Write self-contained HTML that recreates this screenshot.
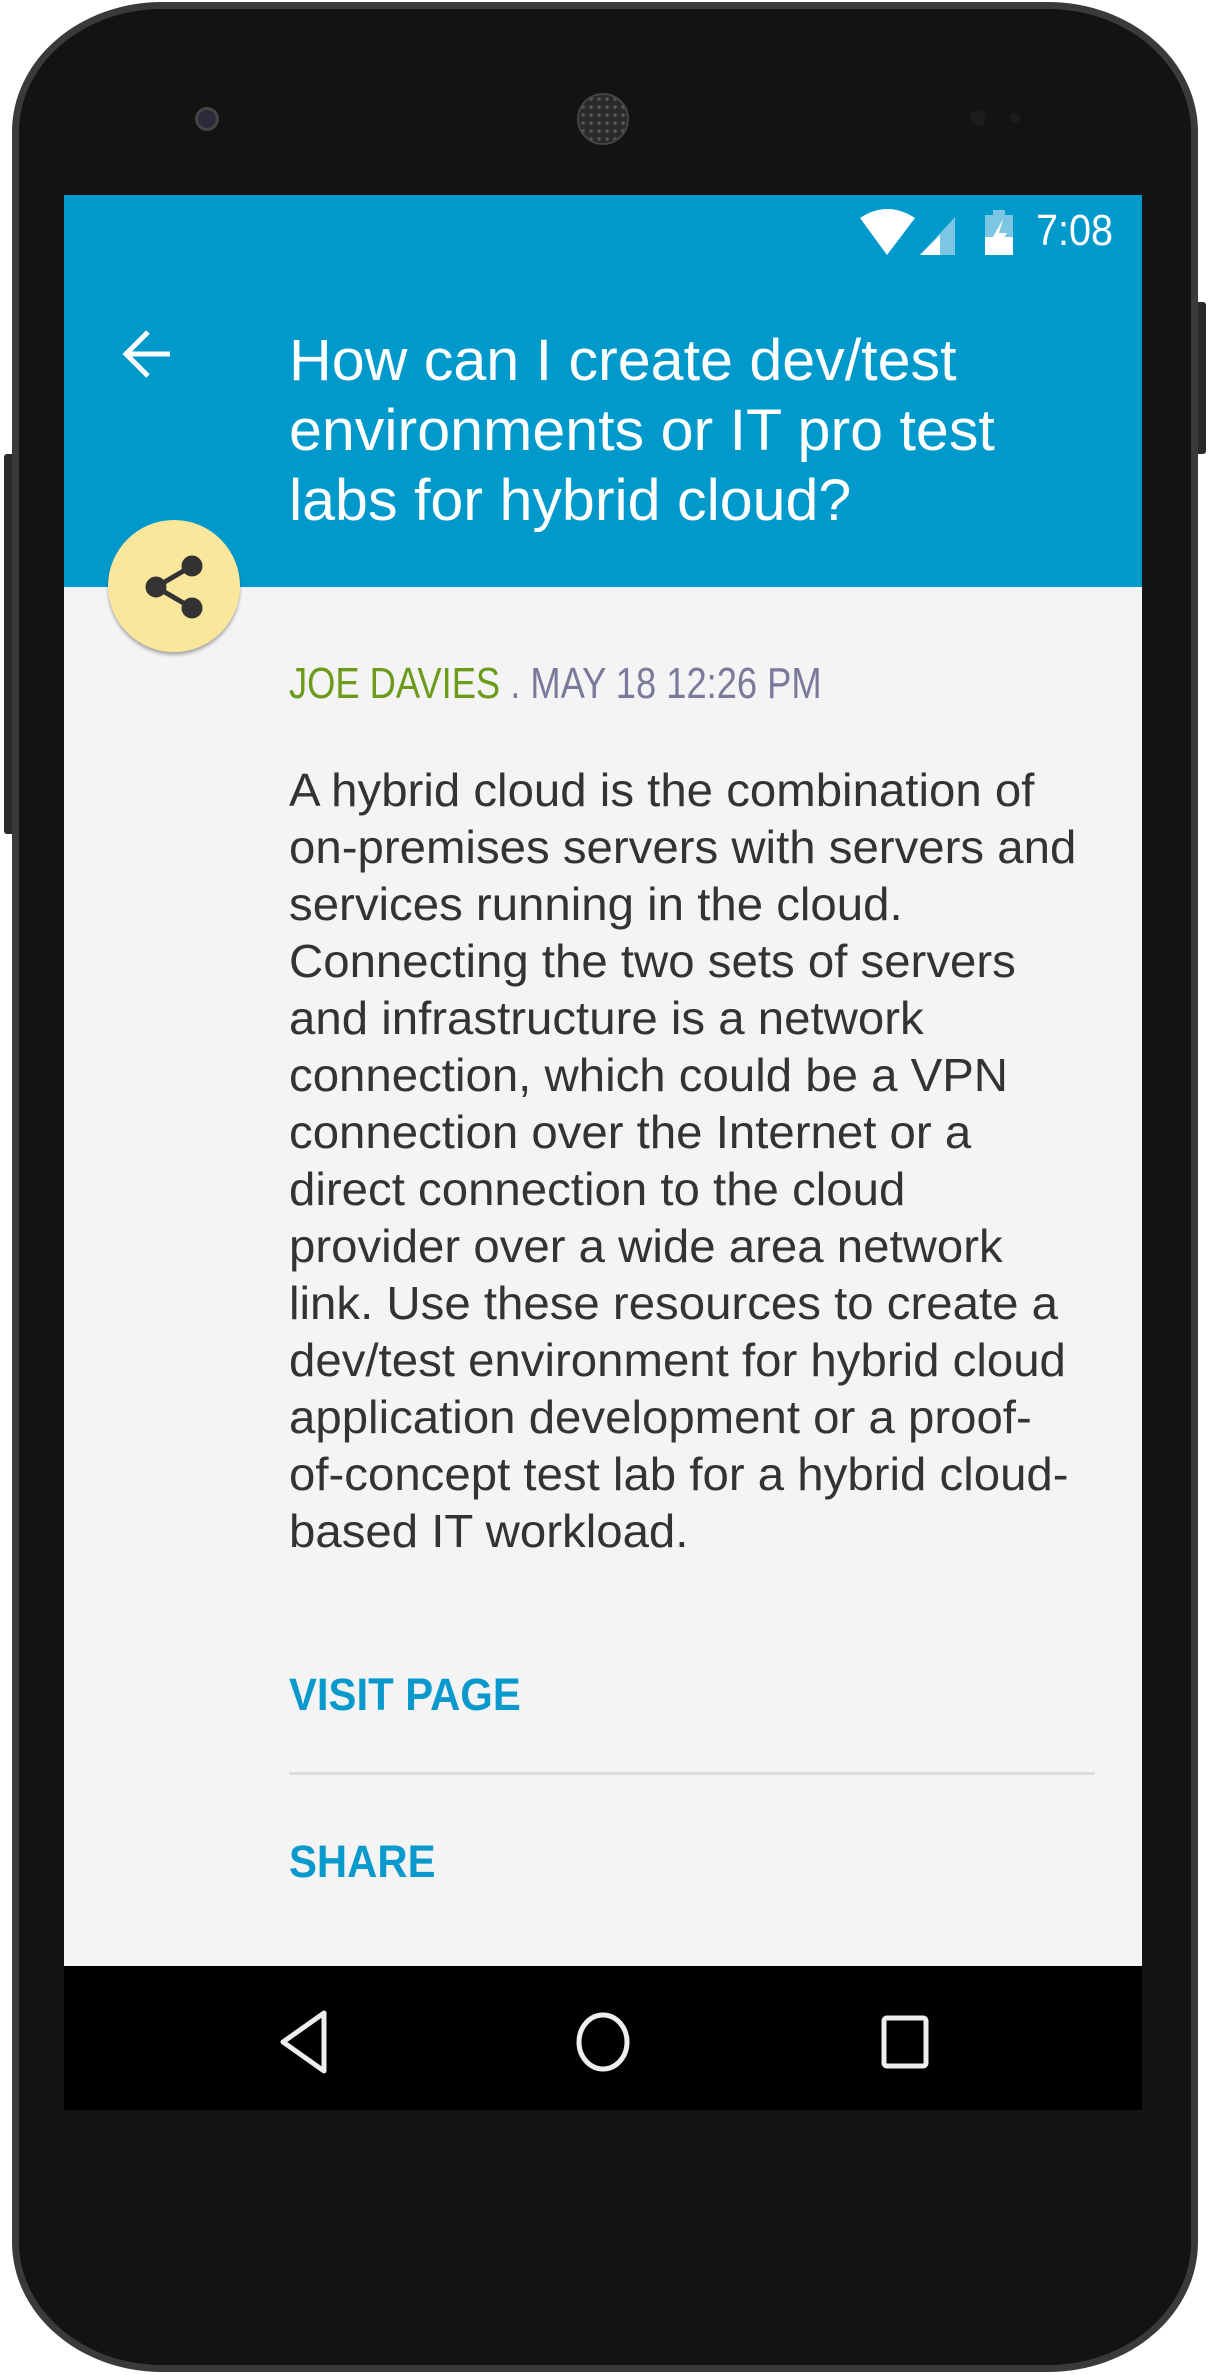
<!DOCTYPE html>
<html><head><meta charset="utf-8"><style>
*{margin:0;padding:0;box-sizing:border-box}
body{width:1210px;height:2375px;background:#fff;position:relative;overflow:hidden;font-family:"Liberation Sans",sans-serif}
.abs{position:absolute}
.phone{left:12px;top:2px;width:1186px;height:2370px;background:#131313;border-radius:150px/130px;border:7px solid #3a3a3a}
.screen{left:64px;top:195px;width:1078px;height:1915px;background:#f4f4f4}
.t{position:absolute;white-space:nowrap;transform-origin:0 0}
.title{left:289px;color:#fff;font-size:58px;font-weight:300;transform:scaleX(1.02)}
.body{left:289px;color:#333;font-size:46px;line-height:57px;transform:scaleX(1.03)}
.btn{left:289px;color:#0a99cc;font-size:45px;font-weight:bold;transform:scaleX(0.93)}
</style></head><body>
<div class="abs" style="left:1194px;top:302px;width:12px;height:152px;background:#2a2a2a;border-radius:3px"></div>
<div class="abs" style="left:4px;top:454px;width:12px;height:380px;background:#2a2a2a;border-radius:3px"></div>
<div class="abs phone"></div>
<div class="abs" style="left:195px;top:107px;width:24px;height:24px;border-radius:50%;background:#2a2a3a;border:3px solid #444"></div>
<div class="abs" style="left:577px;top:93px;width:52px;height:52px;border-radius:50%;background:#2a2a2a;border:2px solid #444;background-image:radial-gradient(#555 30%,transparent 35%);background-size:8px 8px"></div>
<div class="abs" style="left:970px;top:110px;width:16px;height:16px;border-radius:50%;background:#1c1c1c"></div>
<div class="abs" style="left:1010px;top:113px;width:10px;height:10px;border-radius:50%;background:#1c1c1c"></div>
<div class="abs screen"></div>
<div class="abs" style="left:64px;top:195px;width:1078px;height:392px;background:#0099cc"></div>
<svg class="abs" style="left:855px;top:205px" width="270" height="50">
<path d="M5 13 Q32 -5 60 13 L32 50 Z" fill="#fff"/>
<path d="M65 50 L100 12 L100 50 Z" fill="#7cc6e4"/><path d="M65 50 L85 30 L85 50 Z" fill="#fff"/>
<rect x="130" y="10" width="28" height="40" fill="#7cc6e4"/><rect x="138" y="5" width="12" height="6" fill="#7cc6e4"/>
<rect x="130" y="32" width="28" height="18" fill="#fff"/>
<path d="M148 14 L138 32 L146 32 L140 46 L152 28 L144 28 Z" fill="#fff"/>
</svg>
<div class="t" style="left:1036px;top:206px;color:#fff;font-size:44px;transform:scaleX(0.9)">7:08</div>
<svg class="abs" style="left:120px;top:328px" width="56" height="52"><path d="M6 26 H50 M28 4 L6 26 L28 48" stroke="#fff" stroke-width="5" fill="none"/></svg>
<div class="t title" style="top:327px">How can I create dev/test</div>
<div class="t title" style="top:397px">environments or IT pro test</div>
<div class="t title" style="top:467px">labs for hybrid cloud?</div>
<div class="abs" style="left:108px;top:520px;width:132px;height:132px;border-radius:50%;background:#fbe79c;box-shadow:0 3px 3px rgba(0,0,0,0.3)"></div>
<svg class="abs" style="left:140px;top:552px" width="70" height="70"><g fill="#333" stroke="#333" stroke-width="5"><line x1="52" y1="14" x2="16" y2="35"/><line x1="16" y1="35" x2="52" y2="56"/><circle cx="52" cy="14" r="8"/><circle cx="16" cy="35" r="8"/><circle cx="52" cy="56" r="8"/></g></svg>
<div class="t" style="left:289px;top:659px;font-size:44px;transform:scaleX(0.825)"><span style="color:#6c9a1a">JOE DAVIES</span><span style="color:#7a7a9a"> . MAY 18 12:26 PM</span></div>
<div class="t body" style="top:762px">A hybrid cloud is the combination of<br>on-premises servers with servers and<br>services running in the cloud.<br>Connecting the two sets of servers<br>and infrastructure is a network<br>connection, which could be a VPN<br>connection over the Internet or a<br>direct connection to the cloud<br>provider over a wide area network<br>link. Use these resources to create a<br>dev/test environment for hybrid cloud<br>application development or a proof-<br>of-concept test lab for a hybrid cloud-<br>based IT workload.</div>
<div class="t btn" style="top:1669px">VISIT PAGE</div>
<div class="abs" style="left:289px;top:1772px;width:806px;height:3px;background:#dcdcdc"></div>
<div class="t btn" style="top:1836px">SHARE</div>
<div class="abs" style="left:64px;top:1966px;width:1078px;height:144px;background:#000"></div>
<svg class="abs" style="left:270px;top:2005px" width="700" height="75">
<path d="M54 8 L54 66 L13 37 Z" fill="none" stroke="#eee" stroke-width="5" stroke-linejoin="round"/>
<ellipse cx="333" cy="37" rx="24" ry="27" fill="none" stroke="#eee" stroke-width="5"/>
<rect x="614" y="13" width="42" height="48" rx="3" fill="none" stroke="#eee" stroke-width="5"/>
</svg>
</body></html>
